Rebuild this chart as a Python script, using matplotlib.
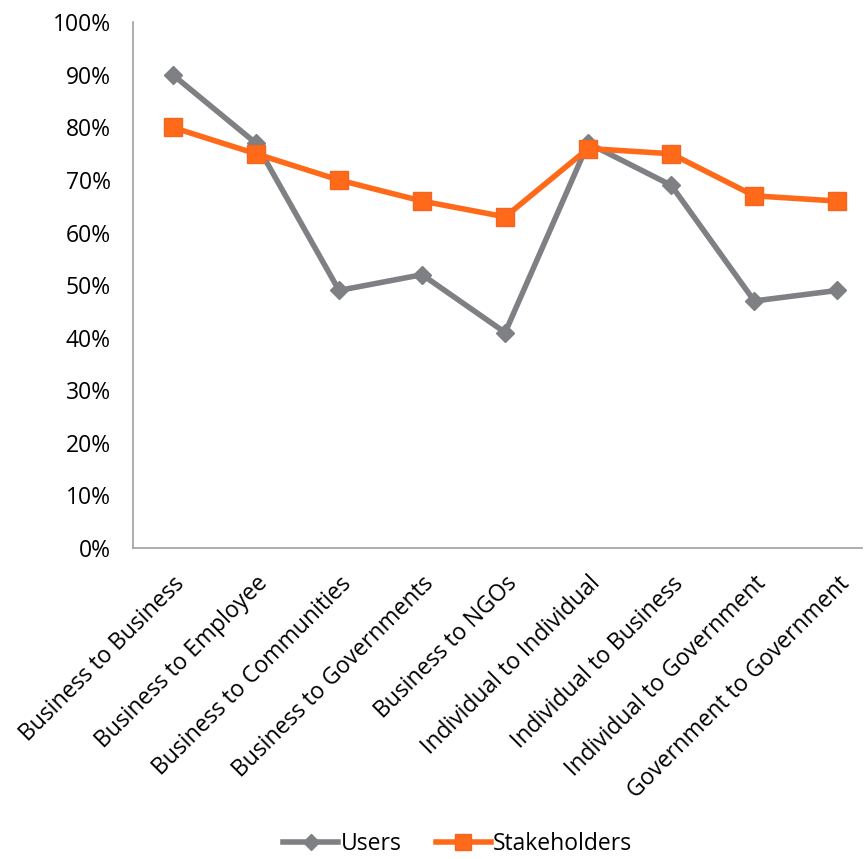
import numpy as np
import matplotlib.pyplot as plt

categories = ["Business to Business", "Business to Employee", "Business to Communities",
              "Business to Governments", "Business to NGOs", "Individual to Individual",
              "Individual to Business", "Individual to Government", "Government to Government"]
users = [90, 77, 49, 52, 41, 77, 69, 47, 49]
stakeholders = [80, 75, 70, 66, 63, 76, 75, 67, 66]
yticks = [0, 10, 20, 30, 40, 50, 60, 70, 80, 90, 100]

plt.rcParams['font.family'] = ['Open Sans', 'DejaVu Sans']

fig = plt.figure(figsize=(8.64, 8.59), dpi=100)
ax = fig.add_axes([0.154, 0.362, 0.844, 0.612])

x = np.arange(len(categories))
ax.plot(x, users, color='#7F8084', lw=4, marker='D', ms=9, mec='#7F8084', label='Users')
ax.plot(x, stakeholders, color='#FF6A1A', lw=4, marker='s', ms=13, mec='#F26522', label='Stakeholders')

ax.set_ylim(0, 100)
ax.set_xlim(-0.48, 8.3)
ax.set_yticks(yticks)
ax.set_yticklabels([f"{v}%" for v in yticks], fontsize=16.5)
ax.set_xticks(x)
ax.set_xticklabels(categories, rotation=45, ha='right', rotation_mode='anchor', fontsize=16.5)
ax.tick_params(axis='y', length=0, pad=16)
ax.tick_params(axis='x', length=0, pad=17)

for s in ['top', 'right']:
    ax.spines[s].set_visible(False)
for s in ['left', 'bottom']:
    ax.spines[s].set_color('#A0A0A0')
    ax.spines[s].set_linewidth(1.2)

fig.legend(loc='lower center', bbox_to_anchor=(0.53, -0.02), ncol=2, frameon=False,
           fontsize=16.5, handlelength=2.4, columnspacing=1.5, handletextpad=0.1,
           markerscale=0.9)

fig.savefig('out.png', dpi=100)
